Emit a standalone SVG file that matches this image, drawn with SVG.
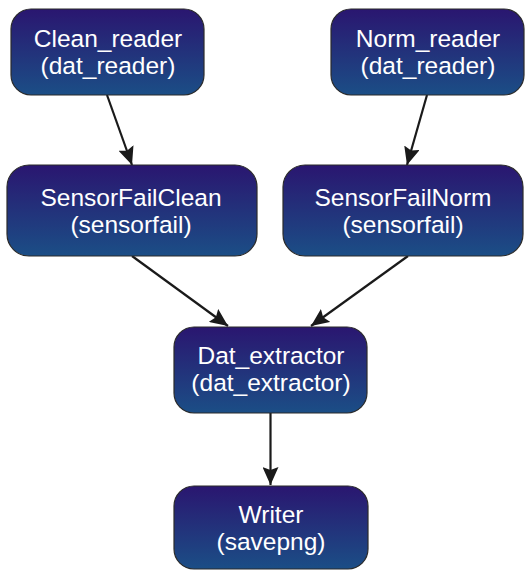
<svg xmlns="http://www.w3.org/2000/svg" width="527" height="571" viewBox="0 0 527 571">
  <style>
    .node rect { fill: url(#nodeFill); stroke: #2b2b2b; stroke-width: 1.2; }
    .node text { fill: #ffffff; font-family: "Liberation Sans", Arial, sans-serif; font-size: 24.5px; text-anchor: middle; }
    .edges line { stroke: #1a1a1a; stroke-width: 2.2; marker-end: url(#arrow); }
  </style>
  <defs>
    <linearGradient id="nodeFill" x1="0" y1="0" x2="0" y2="1">
      <stop offset="0" stop-color="#2a1670"/>
      <stop offset="1" stop-color="#1b4e86"/>
    </linearGradient>
    <marker id="arrow" markerUnits="userSpaceOnUse" markerWidth="20" markerHeight="16" refX="18" refY="8" orient="auto">
      <path d="M0,0 L18,8 L0,16 L3,8 z" fill="#1a1a1a"/>
    </marker>
  </defs>

  <g class="edges" id="connectors">
    <line x1="107" y1="95" x2="132" y2="165"/>
    <line x1="427" y1="95" x2="407" y2="165"/>
    <line x1="132" y1="256" x2="228" y2="326"/>
    <line x1="408" y1="256" x2="311" y2="326"/>
    <line x1="270.5" y1="413" x2="270.5" y2="485"/>
  </g>

  <g class="node" id="clean_reader">
    <rect x="11" y="9" width="193" height="86" rx="20"/>
    <text x="108" y="47">Clean_reader</text>
    <text x="108" y="74">(dat_reader)</text>
  </g>

  <g class="node" id="norm_reader">
    <rect x="331" y="9" width="193" height="86" rx="20"/>
    <text x="428" y="47">Norm_reader</text>
    <text x="428" y="74">(dat_reader)</text>
  </g>

  <g class="node" id="sensorfail_clean">
    <rect x="7" y="165" width="250" height="91" rx="22"/>
    <text x="131" y="206">SensorFailClean</text>
    <text x="131" y="233">(sensorfail)</text>
  </g>

  <g class="node" id="sensorfail_norm">
    <rect x="283" y="165" width="240" height="91" rx="22"/>
    <text x="403" y="206">SensorFailNorm</text>
    <text x="403" y="233">(sensorfail)</text>
  </g>

  <g class="node" id="dat_extractor">
    <rect x="174" y="327" width="193" height="86" rx="20"/>
    <text x="271" y="364">Dat_extractor</text>
    <text x="271" y="391">(dat_extractor)</text>
  </g>

  <g class="node" id="writer">
    <rect x="174" y="486" width="194" height="83" rx="20"/>
    <text x="271" y="523">Writer</text>
    <text x="271" y="550">(savepng)</text>
  </g>
</svg>
